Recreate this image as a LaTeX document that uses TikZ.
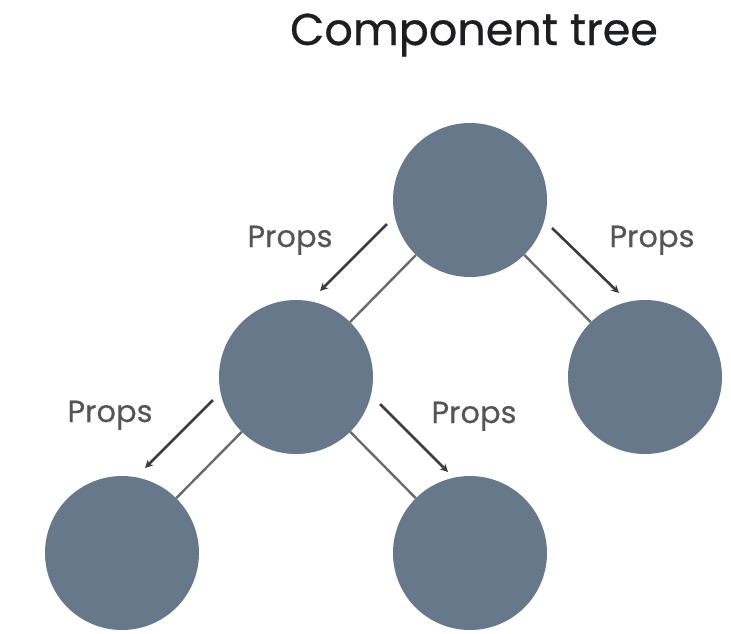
\documentclass[tikz,border=0pt]{standalone}
\usepackage{fontspec}
\setmainfont{Poppins}
\usetikzlibrary{arrows.meta}
\definecolor{nodefill}{HTML}{66788A}
\definecolor{edgecol}{HTML}{6A6A6A}
\definecolor{arrowcol}{HTML}{3C3C3C}
\definecolor{labelcol}{HTML}{555555}
\definecolor{titlecol}{HTML}{1C1E21}
\tikzset{
  treenode/.style={circle, fill=nodefill, minimum size=154pt, inner sep=0pt},
  treeedge/.style={draw=edgecol, line width=2.4pt},
  propsarrow/.style={draw=arrowcol, line width=2.6pt, -{Stealth[length=8pt,width=8pt]}},
  propslabel/.style={text=labelcol, font=\fontsize{30.5}{34}\selectfont\addfontfeatures{FakeBold=0.3}, inner sep=0pt, anchor=base},
}
\begin{document}
\begin{tikzpicture}[x=1pt,y=-1pt]
\useasboundingbox (0,0) rectangle (731,633);
\node[text=titlecol, font=\fontsize{44.5}{50}\selectfont\addfontfeatures{FakeBold=0.6}, inner sep=0pt, anchor=base] (title) at (474,45) {Component tree};

\node[treenode] (root) at (470,200) {};
\node[treenode] (mid) at (296,377) {};
\node[treenode] (right) at (645,377) {};
\node[treenode] (bl) at (122,553) {};
\node[treenode] (br) at (470,553) {};

\draw[treeedge] (root) -- (mid);
\draw[treeedge] (root) -- (right);
\draw[treeedge] (mid) -- (bl);
\draw[treeedge] (mid) -- (br);

\coordinate (a1s) at (387,224); \coordinate (a1e) at (320,291);
\coordinate (a2s) at (552,228); \coordinate (a2e) at (619,293);
\coordinate (a3s) at (213,400); \coordinate (a3e) at (145,468);
\coordinate (a4s) at (380,404); \coordinate (a4e) at (448,472);
\draw[propsarrow] (a1s) -- (a1e);
\draw[propsarrow] (a2s) -- (a2e);
\draw[propsarrow] (a3s) -- (a3e);
\draw[propsarrow] (a4s) -- (a4e);

\node[propslabel] (l1) at (290,247) {Props};
\node[propslabel] (l2) at (652,247) {Props};
\node[propslabel] (l3) at (110,422) {Props};
\node[propslabel] (l4) at (474,423) {Props};
\end{tikzpicture}
\end{document}
